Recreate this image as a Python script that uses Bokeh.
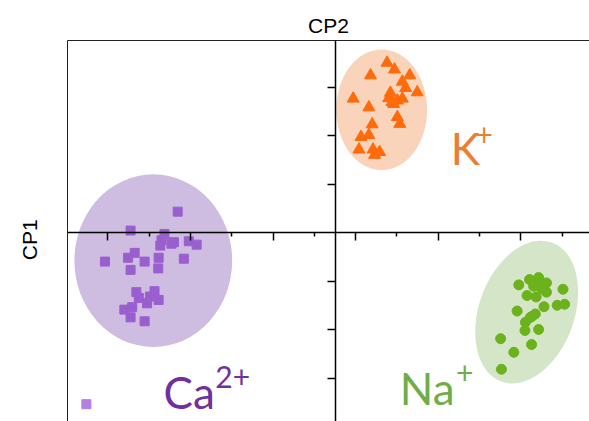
from bokeh.plotting import figure
from bokeh.models import Range1d, LinearAxis, FixedTicker
from bokeh.core.properties import value
from bokeh.embed import file_html
from bokeh.resources import INLINE

# ---- data (scores on CP2 = x, CP1 = y) ----
k_x = [1.26, 1.44, 0.86, 1.81, 1.63, 1.71, 1.99, 0.44, 1.34, 1.30, 1.63, 1.42,
       0.82, 1.51, 1.57, 0.90, 0.82, 0.63, 0.58, 0.92, 1.08, 0.96, 1.38, 1.51]
k_y = [3.51, 3.37, 3.25, 3.25, 3.12, 2.99, 2.90, 2.77, 2.89, 2.78, 2.77, 2.66,
       2.59, 2.39, 2.25, 2.24, 2.02, 1.98, 1.72, 1.72, 1.67, 1.61, 2.70, 2.73]

ca_x = [-3.81, -4.95, -4.13, -4.20, -4.23, -3.96, -3.54, -3.35, -4.85, -5.01,
        -4.61, -4.27, -3.66, -5.57, -4.95, -4.28, -4.81, -4.37, -4.75, -4.48,
        -4.27, -4.55, -5.10, -4.91, -4.95, -4.61, -3.90]
ca_y = [0.44, 0.05, -0.02, -0.15, -0.26, -0.22, -0.17, -0.24, -0.41, -0.51,
        -0.59, -0.51, -0.53, -0.59, -0.76, -0.73, -1.22, -1.20, -1.34, -1.31,
        -1.38, -1.45, -1.58, -1.53, -1.74, -1.82, -0.19]

na_x = [4.45, 4.71, 4.93, 5.12, 4.81, 5.02, 5.12, 5.52, 4.65, 4.87, 5.06, 5.38,
        5.56, 4.41, 4.85, 4.73, 4.61, 4.60, 4.93, 4.01, 4.76, 4.33, 4.03, 4.77, 4.98]
na_y = [-1.07, -0.96, -0.92, -1.03, -1.10, -1.15, -1.22, -1.16, -1.29, -1.32,
        -1.52, -1.49, -1.47, -1.61, -1.67, -1.74, -1.84, -2.01, -1.99, -2.18,
        -2.30, -2.46, -2.81, -1.72, -1.12]

extra_x = [-6.02]
extra_y = [-3.53]

# confidence ellipses: K, Ca, Na
ell_cx = [1.13, -4.40, 4.64]
ell_cy = [2.54, -0.57, -1.63]
ell_w = [2.20, 3.82, 2.31]
ell_h = [2.49, 3.56, 3.05]
ell_angle = [0.0, 0.0, -0.35]
ell_color = ["#f9d4ba", "#cfbde1", "#d4e6c7"]

x_major = [-5.5, -3.5, -1.5, 0.5, 2.5, 4.5]
x_minor = [-4.5, -2.5, -0.5, 1.5, 3.5, 5.5]
y_major = [-3, -2, -1, 1, 2, 3]

p = figure(width=589, height=421,
           x_range=Range1d(-6.477, 6.162), y_range=Range1d(-3.887, 3.969),
           output_backend="svg", toolbar_location=None,
           x_axis_location=None, y_axis_location=None,
           min_border_left=67, min_border_top=40,
           min_border_right=0, min_border_bottom=0)
p.outline_line_color = None
p.grid.visible = False
p.background_fill_color = "white"

# frame borders with axis titles
left_border = LinearAxis(ticker=FixedTicker(ticks=[]),
                         axis_label="CP1\u00a0\u00a0\u00a0",
                         axis_label_text_font="Liberation Sans",
                         axis_label_text_font_size="21px",
                         axis_label_text_font_style="normal",
                         axis_label_text_color="black",
                         axis_label_standoff=27,
                         major_tick_out=0, minor_tick_out=0,
                         axis_line_color="#222222", axis_line_width=1)
top_border = LinearAxis(ticker=FixedTicker(ticks=[]), axis_label="CP2",
                        axis_label_text_font="Liberation Sans",
                        axis_label_text_font_size="21px",
                        axis_label_text_font_style="normal",
                        axis_label_text_color="black",
                        axis_label_standoff=4,
                        major_tick_out=0, minor_tick_out=0,
                        axis_line_color="#222222", axis_line_width=1)
p.add_layout(left_border, "left")
p.add_layout(top_border, "above")

# ellipses
p.ellipse(x=ell_cx, y=ell_cy, width=ell_w, height=ell_h, angle=ell_angle,
          fill_color=ell_color, line_color=None)

# central axes (unlabelled ticks)
x_axis = LinearAxis(fixed_location=0,
                    ticker=FixedTicker(ticks=x_major, minor_ticks=x_minor),
                    major_label_overrides={t: "" for t in x_major},
                    major_tick_out=8, major_tick_in=0,
                    minor_tick_out=4, minor_tick_in=0,
                    axis_line_color="black", axis_line_width=1.5,
                    major_tick_line_color="black", major_tick_line_width=1.5,
                    minor_tick_line_color="black", minor_tick_line_width=1.5)
y_axis = LinearAxis(fixed_location=0,
                    ticker=FixedTicker(ticks=y_major, minor_ticks=[]),
                    major_label_overrides={t: "" for t in y_major},
                    major_tick_out=8, major_tick_in=0,
                    minor_tick_out=0, minor_tick_in=0,
                    axis_line_color="black", axis_line_width=1.5,
                    major_tick_line_color="black", major_tick_line_width=1.5)
p.add_layout(x_axis, "below")
p.add_layout(y_axis, "left")

# points
p.scatter(k_x, k_y, marker="triangle", size=12, fill_color="#ff6a0a",
          line_color="#ff6a0a")
p.scatter(ca_x, ca_y, marker="square", size=9, fill_color="#9a5fcf",
          line_color="#9a5fcf")
p.scatter(na_x, na_y, marker="circle", size=10, fill_color="#6bb21c",
          line_color="#6bb21c")
p.scatter(extra_x, extra_y, marker="square", size=9, fill_color="#b37fe2",
          line_color="#b37fe2")

# group labels
lab_font = value("Lato")
p.text(x=[2.80], y=[1.76], text=["K"], text_font=lab_font, text_font_size="44px",
       text_color="#ed7d31", text_baseline="alphabetic", text_align="left")
p.text(x=[3.40], y=[2.03], text=["+"], text_font=lab_font, text_font_size="30px",
       text_color="#ed7d31", text_baseline="alphabetic", text_align="left")
p.text(x=[-4.15], y=[-3.27], text=["Ca"], text_font=lab_font, text_font_size="44px",
       text_color="#7030a0", text_baseline="alphabetic", text_align="left")
p.text(x=[-2.90], y=[-2.97], text=["2+"], text_font=lab_font, text_font_size="30px",
       text_color="#7030a0", text_baseline="alphabetic", text_align="left")
p.text(x=[1.57], y=[-3.19], text=["Na"], text_font=lab_font, text_font_size="44px",
       text_color="#70ad47", text_baseline="alphabetic", text_align="left")
p.text(x=[2.93], y=[-2.88], text=["+"], text_font=lab_font, text_font_size="30px",
       text_color="#70ad47", text_baseline="alphabetic", text_align="left")

open("out.html", "w").write(file_html(p, INLINE))
